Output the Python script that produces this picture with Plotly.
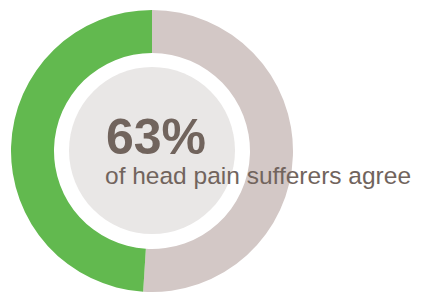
import plotly.graph_objects as go

labels = ["Other", "Agree"]
values = [51, 49]
colors = ["#D3C8C6", "#62B94F"]
headline = "63%"
subtitle = "of head pain sufferers agree"

# page has an 8px body margin; figure sized to fit the window
OFF = 8
W, H = 422 - OFF, 293 - OFF
def px(x): return (x - OFF) / W
def py(y): return 1 - (y - OFF) / H

fig = go.Figure()
fig.add_trace(go.Pie(
    labels=labels, values=values, sort=False, direction="clockwise", rotation=0,
    hole=98/141, marker=dict(colors=colors, line=dict(width=0)),
    textinfo="none", hoverinfo="label+percent", showlegend=False,
    domain=dict(x=[px(11), px(293)], y=[py(292), py(10)]),
))
fig.add_shape(type="circle", xref="paper", yref="paper",
              x0=px(69), x1=px(235), y0=py(234), y1=py(67),
              fillcolor="#E9E7E6", line=dict(width=0), layer="below")
txt = "#71645D"
fig.add_annotation(text="<b>" + headline + "</b>", xref="paper", yref="paper",
                   x=px(104), y=py(137), xanchor="left", yanchor="middle", showarrow=False,
                   font=dict(family="Liberation Sans, Arial", size=50, color=txt))
fig.add_annotation(text=subtitle, xref="paper", yref="paper",
                   x=px(103), y=py(175), xanchor="left", yanchor="middle", showarrow=False,
                   font=dict(family="Liberation Sans, Arial", size=24.5, color=txt))
fig.update_layout(width=W, height=H, margin=dict(l=0, r=0, t=0, b=0),
                  paper_bgcolor="white", plot_bgcolor="white")
fig.write_html("out.html")
